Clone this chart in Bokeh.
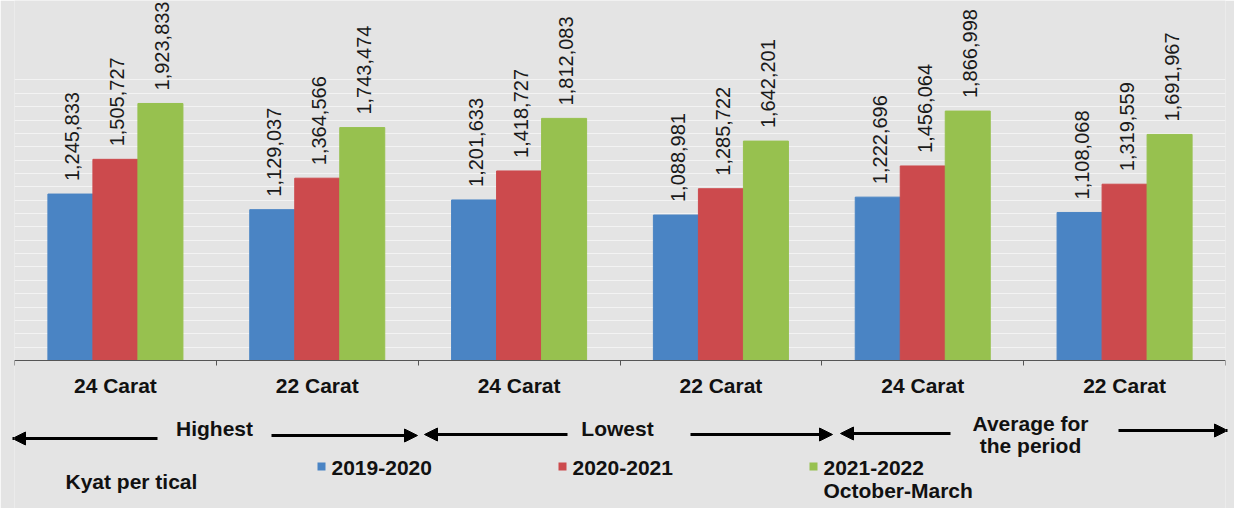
import math
from bokeh.plotting import figure
from bokeh.models import (Range1d, LinearAxis, FixedTicker, ColumnDataSource, LabelSet,
                          Label, Arrow, NormalHead, BoxAnnotation)
from bokeh.core.properties import value
from bokeh.embed import file_html
from bokeh.resources import INLINE

# ---- data ----
categories = ["24 Carat", "22 Carat", "24 Carat", "22 Carat", "24 Carat", "22 Carat"]
group_names = ["Highest", "Lowest", "Average for", "the period"]
series_names = ["2019-2020", "2020-2021", "2021-2022", "October-March"]
v2019_2020 = [1245833, 1129037, 1201633, 1088981, 1222696, 1108068]
v2020_2021 = [1505727, 1364566, 1418727, 1285722, 1456064, 1319559]
v2021_2022 = [1923833, 1743474, 1812083, 1642201, 1866998, 1691967]
colors = ["#4a84c4", "#cc4a4d", "#97c14f"]
unit_label = "Kyat per tical"

FONT = "Liberation Sans"
BG = "#e4e4e4"
# page geometry of the frame
FRAME_LEFT, FRAME_RIGHT = 22, 1233
FRAME_TOP, FRAME_BOTTOM = 8, 516
BASELINE = 368
PER_PX = 7485.0  # value units per pixel

p = figure(width=1234, height=508, output_backend="svg", toolbar_location=None,
           x_range=Range1d(0, 6),
           y_range=Range1d(-(FRAME_BOTTOM - BASELINE) * PER_PX, (BASELINE - FRAME_TOP) * PER_PX),
           x_axis_location=None, y_axis_location=None,
           min_border_left=FRAME_LEFT - 8, min_border_right=1242 - FRAME_RIGHT,
           min_border_top=FRAME_TOP - 8, min_border_bottom=0,
           background_fill_color=BG, border_fill_color=BG, outline_line_color=None)

# faint horizontal lines
p.xgrid.visible = False
p.ygrid.ticker = FixedTicker(ticks=[k * 100000 for k in range(1, 22)])
p.ygrid.grid_line_color = "#f3f3f3"
p.ygrid.grid_line_width = 1

# x axis (at value 0) with category labels at centres and ticks at boundaries
n = len(categories)
xaxis = LinearAxis(ticker=FixedTicker(ticks=[i + 0.5 for i in range(n)],
                                      minor_ticks=[float(i) for i in range(n + 1)]),
                   major_label_overrides={i + 0.5: c for i, c in enumerate(categories)},
                   fixed_location=0)
xaxis.axis_line_color = "#555555"
xaxis.major_tick_out = 0
xaxis.major_tick_in = 0
xaxis.minor_tick_out = 5
xaxis.minor_tick_in = 0
xaxis.minor_tick_line_color = "#555555"
xaxis.major_label_text_font = FONT
xaxis.major_label_text_font_size = "21px"
xaxis.major_label_text_font_style = "bold"
xaxis.major_label_text_color = "#111111"
xaxis.major_label_standoff = 8
p.add_layout(xaxis, "below")

# bars
bw = 0.223
for j, vals in enumerate([v2019_2020, v2020_2021, v2021_2022]):
    src = ColumnDataSource(dict(
        x=[i + 0.5 + (j - 1) * bw for i in range(n)],
        top=vals,
        label=[f"{v:,}" for v in vals],
    ))
    p.vbar(x="x", top="top", width=bw, source=src, fill_color=colors[j], line_color=colors[j])
    p.add_layout(LabelSet(x="x", y="top", text="label", source=src, angle=math.pi / 2,
                          text_align="left", text_baseline="middle", x_offset=2, y_offset=13,
                          text_font=value(FONT), text_font_size="20px", text_color="#1a1a1a"))

# helpers: page pixel -> screen units relative to frame bottom-left
def sx(x):
    return x - FRAME_LEFT

def sy(y):
    return FRAME_BOTTOM - y

def lab(txt, x, y, align="center", size="21px"):
    p.add_layout(Label(x=sx(x), y=sy(y), x_units="screen", y_units="screen", text=txt,
                       text_align=align, text_baseline="middle",
                       text_font=FONT, text_font_size=size, text_font_style="bold",
                       text_color="#111111"))

def arrow(x0, y0, x1, y1):
    p.add_layout(Arrow(end=NormalHead(size=13, line_color="black", fill_color="black"),
                       x_start=sx(x0), y_start=sy(y0), x_end=sx(x1), y_end=sy(y1),
                       start_units="screen", end_units="screen", line_width=3,
                       line_color="black"))

lab(group_names[0], 222, 436)
arrow(165, 446, 20, 446)
arrow(279, 443, 425, 443)

lab(group_names[1], 625, 436)
arrow(575, 442, 432, 442)
arrow(698, 442, 840, 442)

lab(group_names[2], 1038, 431)
lab(group_names[3], 1038, 453)
arrow(958, 441, 848, 441)
arrow(1126, 438, 1235, 438)

# legend
lab(unit_label, 73, 489, align="left")
legend_x = [325, 566, 817]
for j in range(3):
    p.add_layout(BoxAnnotation(left=sx(legend_x[j]), right=sx(legend_x[j] + 8),
                               top=sy(470), bottom=sy(478),
                               left_units="screen", right_units="screen",
                               top_units="screen", bottom_units="screen",
                               fill_color=colors[j], fill_alpha=1, line_color=None))
    lab(series_names[j], legend_x[j] + 14, 475.5, align="left")
lab(series_names[3], legend_x[2] + 14, 498, align="left")

open("out.html", "w").write(file_html(p, INLINE))
